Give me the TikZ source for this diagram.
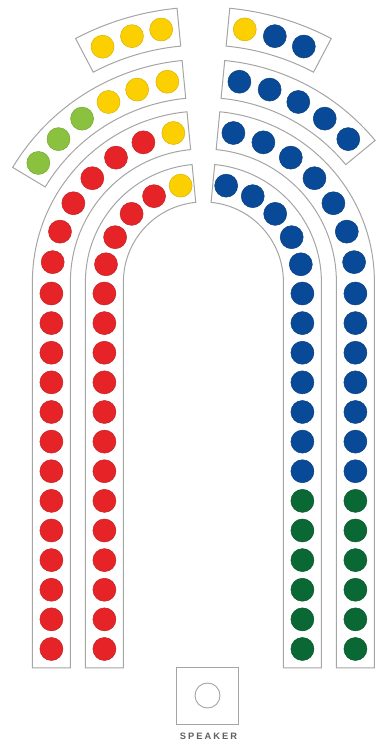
\documentclass[tikz,border=0pt]{standalone}
\usepackage{fontspec}
\newfontfamily\spkfont[LetterSpace=22]{Liberation Sans}
\definecolor{seatred}{RGB}{230,36,40}
\definecolor{seatyel}{RGB}{252,208,0}
\definecolor{seatlgr}{RGB}{138,194,64}
\definecolor{seatblu}{RGB}{8,74,152}
\definecolor{seatdgr}{RGB}{10,104,52}
\definecolor{boxgray}{RGB}{165,165,165}
\definecolor{spkgray}{RGB}{95,95,95}
\begin{document}
\begin{tikzpicture}[x=1pt,y=1pt,
  seat/.style={circle, inner sep=0pt, minimum size=23pt, draw=#1!85!black, line width=0.5pt, fill=#1},
  bench/.style={draw=boxgray, line width=1pt, line join=miter},
  podium/.style={draw=boxgray, line width=0.9pt},
]
\useasboundingbox (0,0) rectangle (376,746);
\begin{scope}[shift={(203.4,464)}]
  % ---- benches ----
  % top row
  \draw[bench] (95.5:275) arc[start angle=95.5,end angle=117.7,radius=275] -- (117.7:237) arc[start angle=117.7,end angle=95.5,radius=237] -- cycle;
  \draw[bench] (84.5:275) arc[start angle=84.5,end angle=62.3,radius=275] -- (62.3:237) arc[start angle=62.3,end angle=84.5,radius=237] -- cycle;
  % second row
  \draw[bench] (95.5:222.5) arc[start angle=95.5,end angle=149,radius=222.5] -- (149:184.5) arc[start angle=149,end angle=95.5,radius=184.5] -- cycle;
  \draw[bench] (84.5:222.5) arc[start angle=84.5,end angle=39.5,radius=222.5] -- (39.5:184.5) arc[start angle=39.5,end angle=84.5,radius=184.5] -- cycle;
  % outer horseshoe
  \draw[bench] (95.5:171) arc[start angle=95.5,end angle=180,radius=171] -- (-171,-386) -- (-133,-386) -- (-133,0) arc[start angle=180,end angle=95.5,radius=133] -- cycle;
  \draw[bench] (84.5:171) arc[start angle=84.5,end angle=0,radius=171] -- (171,-386) -- (133,-386) -- (133,0) arc[start angle=0,end angle=84.5,radius=133] -- cycle;
  % inner horseshoe
  \draw[bench] (95.5:118) arc[start angle=95.5,end angle=180,radius=118] -- (-118,-386) -- (-80,-386) -- (-80,0) arc[start angle=180,end angle=95.5,radius=80] -- cycle;
  \draw[bench] (84.5:118) arc[start angle=84.5,end angle=0,radius=118] -- (118,-386) -- (80,-386) -- (80,0) arc[start angle=0,end angle=84.5,radius=80] -- cycle;

  % ---- seats ----
  % top row
  \foreach \a/\c [count=\i] in {99.5/seatyel,106.2/seatyel,113.2/seatyel}
    \node[seat=\c] (tl\i) at (\a:256) {};
  \foreach \a/\c [count=\i] in {80.7/seatyel,73.8/seatblu,66.9/seatblu}
    \node[seat=\c] (tr\i) at (\a:256) {};
  % second row
  \foreach \a/\c [count=\i] in {100.2/seatyel,109/seatyel,117.8/seatyel,126.6/seatlgr,135.4/seatlgr,144.2/seatlgr}
    \node[seat=\c] (sl\i) at (\a:203.5) {};
  \foreach \a [count=\i] in {79.8,71,62.2,53.4,44.6}
    \node[seat=seatblu] (sr\i) at (\a:203.5) {};
  % outer horseshoe arcs
  \foreach \a/\c [count=\i] in {101.4/seatyel,113.25/seatred,125.1/seatred,136.95/seatred,148.8/seatred,160.65/seatred,172.5/seatred}
    \node[seat=\c] (ol\i) at (\a:152) {};
  \foreach \a [count=\i] in {78.6,66.75,54.9,43.05,31.2,19.35,7.5}
    \node[seat=seatblu] (or\i) at (\a:152) {};
  % inner horseshoe arcs
  \foreach \a/\c [count=\i] in {103.3/seatyel,119.9/seatred,136.5/seatred,153.1/seatred,169.7/seatred}
    \node[seat=\c] (il\i) at (\a:99) {};
  \foreach \a [count=\i] in {76.7,60.1,43.5,26.9,10.3}
    \node[seat=seatblu] (ir\i) at (\a:99) {};
  % straight parts
  \foreach \k in {0,...,12}{
    \pgfmathsetmacro{\yy}{-11.5-29.625*\k}
    \node[seat=seatred] (ols\k) at (-152,\yy) {};
    \node[seat=seatred] (ils\k) at (-99,\yy) {};
  }
  \foreach \k in {0,...,6}{
    \pgfmathsetmacro{\yy}{-11.5-29.625*\k}
    \node[seat=seatblu] (irs\k) at (99,\yy) {};
    \node[seat=seatblu] (ors\k) at (152,\yy) {};
  }
  \foreach \k in {7,...,12}{
    \pgfmathsetmacro{\yy}{-11.5-29.625*\k}
    \node[seat=seatdgr] (irs\k) at (99,\yy) {};
    \node[seat=seatdgr] (ors\k) at (152,\yy) {};
  }
\end{scope}
% speaker
\node[podium, rectangle, minimum width=62pt, minimum height=57pt, inner sep=0pt] (spkbox) at (207.5,50.5) {};
\node[podium, circle, minimum size=25pt, inner sep=0pt] (spkseat) at (spkbox.center) {};
\node[font=\spkfont\bfseries\fontsize{9.3}{10}\selectfont, text=spkgray, inner sep=0pt] (spklabel) at (208.5,9.5) {SPEAKER};
\end{tikzpicture}
\end{document}
